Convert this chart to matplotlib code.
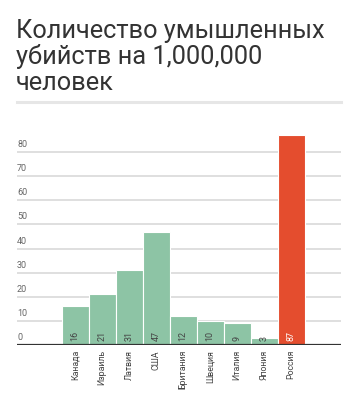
import matplotlib
matplotlib.use("Agg")
import matplotlib.pyplot as plt
import matplotlib.transforms as mtransforms

plt.rcParams['font.family'] = ['Roboto', 'DejaVu Sans']

countries = ["Канада", "Израиль", "Латвия", "США", "Британия", "Швеция", "Италия", "Япония", "Россия"]
values = [16, 21, 31, 47, 12, 10, 9, 3, 87]
highlight = "Россия"
yticks = [0, 10, 20, 30, 40, 50, 60, 70, 80]
title_lines = ["Количество умышленных", "убийств на 1,000,000", "человек"]

W, H = 356, 395
fig = plt.figure(figsize=(W / 100, H / 100), dpi=100)

def px_axes(l, t, r, b):
    return [l / W, 1 - b / H, (r - l) / W, (b - t) / H]

# Title (three lines, baselines in pixels)
for i, line in enumerate(title_lines):
    fig.text(16 / W, 1 - (38 + 26 * i) / H, line, ha='left', va='baseline', fontsize=18.3,
             color='#333333')
# Separator rule under title
fig.add_artist(plt.Line2D([17 / W, 341 / W], [1 - 101.5 / H, 1 - 101.5 / H],
                          color='#e6e6e6', lw=2.2, transform=fig.transFigure))

ax = fig.add_axes(px_axes(17, 128, 341, 345))
ax.set_xlim(-2.15, 9.85)
ax.set_ylim(0, 90)
for s in ax.spines.values():
    s.set_visible(False)
ax.set_xticks([])
ax.set_yticks([])

for v in yticks[1:]:
    ax.axhline(v, color='#d9d9d9', lw=1.2, zorder=1)
ax.axhline(0, color='#333333', lw=1.6, zorder=4)

green = '#8dc4a5'
red = '#e44d2e'
xs = list(range(len(countries)))
colors = [red if c == highlight else green for c in countries]
ax.bar(xs, values, width=1.0, color=colors, edgecolor='white', linewidth=0.8, zorder=3)

blend = mtransforms.blended_transform_factory(ax.transAxes, ax.transData)
for v in yticks:
    ax.text(0, v, str(v), transform=blend + mtransforms.ScaledTranslation(0, 3 / 100, fig.dpi_scale_trans),
            ha='left', va='bottom', fontsize=6.5, color='#666666')

for x, v, c in zip(xs, values, countries):
    tc = 'white' if c == highlight else '#444444'
    ax.text(x, 0, str(v), rotation=90, ha='center', va='bottom', fontsize=6.5, color=tc,
            transform=ax.transData + mtransforms.ScaledTranslation(0, 4 / 100, fig.dpi_scale_trans),
            zorder=5)
    ax.text(x, 0, c, rotation=90, ha='center', va='top', fontsize=6.3, color='#444444',
            transform=ax.transData + mtransforms.ScaledTranslation(0, -5 / 100, fig.dpi_scale_trans))

fig.savefig("out.png", dpi=100, facecolor='white')
